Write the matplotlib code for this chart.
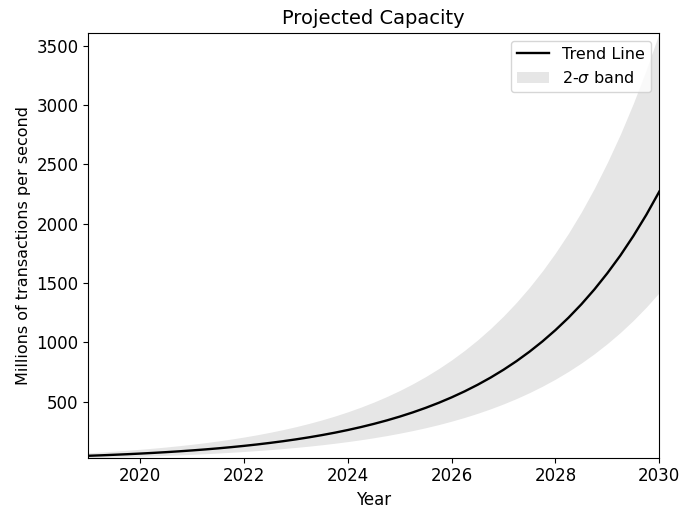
import matplotlib
matplotlib.use("Agg")
import matplotlib.pyplot as plt

# quarter-year steps, 2019 .. 2030
years = [2019.00, 2019.25, 2019.50, 2019.75, 2020.00, 2020.25, 2020.50, 2020.75,
         2021.00, 2021.25, 2021.50, 2021.75, 2022.00, 2022.25, 2022.50, 2022.75,
         2023.00, 2023.25, 2023.50, 2023.75, 2024.00, 2024.25, 2024.50, 2024.75,
         2025.00, 2025.25, 2025.50, 2025.75, 2026.00, 2026.25, 2026.50, 2026.75,
         2027.00, 2027.25, 2027.50, 2027.75, 2028.00, 2028.25, 2028.50, 2028.75,
         2029.00, 2029.25, 2029.50, 2029.75, 2030.00]

# millions of transactions per second
trend = [42.7, 46.7, 51.2, 56.0, 61.3, 67.1, 73.4, 80.4,
         88.0, 96.3, 105.4, 115.4, 126.3, 138.2, 151.3, 165.6,
         181.2, 198.3, 217.1, 237.6, 260.1, 284.7, 311.6, 341.0,
         373.2, 408.5, 447.1, 489.3, 535.6, 586.2, 641.6, 702.2,
         768.6, 841.2, 920.8, 1007.8, 1103, 1207, 1321, 1446,
         1583, 1732, 1896, 2075, 2271]

upper = [67.9, 74.3, 81.4, 89.0, 97.5, 106.7, 116.7, 127.8,
         139.9, 153.1, 167.6, 183.5, 200.8, 219.7, 240.6, 263.3,
         288.1, 315.3, 345.2, 377.8, 413.6, 452.7, 495.4, 542.2,
         593.4, 649.5, 710.9, 778.0, 851.6, 932.1, 1020, 1116.5,
         1222, 1337.5, 1464, 1602.4, 1754, 1919, 2100, 2299,
         2517, 2754, 3015, 3299, 3611]

lower = [26.7, 29.2, 32.0, 35.0, 38.3, 41.9, 45.9, 50.3,
         55.0, 60.2, 65.9, 72.1, 78.9, 86.4, 94.6, 103.5,
         113.3, 123.9, 135.7, 148.5, 162.6, 177.9, 194.8, 213.1,
         233.3, 255.3, 279.4, 305.8, 334.8, 366.4, 401.0, 438.9,
         480.4, 525.8, 575.5, 629.9, 689.4, 754.4, 825.6, 903.8,
         989.4, 1082.5, 1185, 1296.9, 1419]


def main():
    plt.rcParams["font.size"] = 12

    fig = plt.figure(figsize=(6.82, 5.15), dpi=100)
    ax = fig.add_axes([0.1295, 0.1113, 0.8372, 0.8252])

    band = ax.fill_between(years, lower, upper, color="0.9", linewidth=0,
                           label=r"2-$\sigma$ band")
    line, = ax.plot(years, trend, color="black", linewidth=1.7, label="Trend Line")

    ax.set_xlim(years[0], years[-1])
    ax.set_ylim(min(lower), max(upper))
    ax.set_title("Projected Capacity", fontsize=14)
    ax.set_xlabel("Year")
    ax.set_ylabel("Millions of transactions per second", fontsize=11.5)
    ax.legend(handles=[line, band], loc="upper right", fontsize=11.5)

    fig.savefig("out.png", dpi=100)
    plt.close(fig)


if __name__ == "__main__":
    main()
